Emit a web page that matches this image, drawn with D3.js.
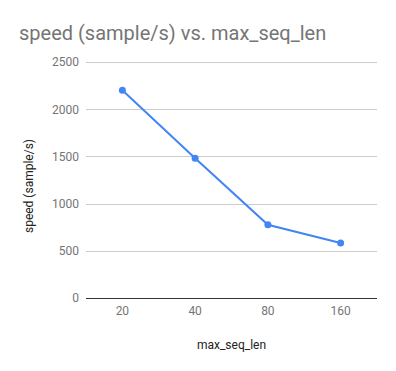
<!DOCTYPE html>
<html><head><meta charset="utf-8">
<script src="https://cdn.jsdelivr.net/npm/d3@7"></script>
<style>body{margin:0;background:#fff}svg{display:block;font-family:Roboto,Arial,sans-serif}</style>
</head><body>
<svg id="c" width="396" height="371"></svg>
<script>
const categories = ["20","40","80","160"];
const speed = [2200, 1480, 775, 582];
const yTicks = [0, 500, 1000, 1500, 2000, 2500];
const title = "speed (sample/s) vs. max_seq_len";
const xTitle = "max_seq_len";
const yTitle = "speed (sample/s)";

const svg = d3.select("#c");
const m = {left: 86, right: 19, top: 62, bottom: 73};
const W = 396, H = 371;
const x = d3.scaleBand().domain(categories).range([m.left, W - m.right]);
const y = d3.scaleLinear().domain([0, 2500]).range([H - m.bottom, m.top]);

svg.append("rect").attr("width", W).attr("height", H).attr("fill", "#fff");

// gridlines
const gy = svg.append("g").attr("transform", `translate(${m.left},0)`)
  .call(d3.axisLeft(y).tickValues(yTicks).tickFormat(d3.format("d")).tickSize(-(W - m.left - m.right)).tickPadding(7));
gy.select(".domain").remove();
gy.selectAll(".tick line").attr("stroke", "#cccccc").attr("shape-rendering", "crispEdges");
gy.selectAll(".tick text").attr("fill", "#757575").attr("font-size", 12).attr("font-family", "Roboto");
gy.selectAll(".tick").filter(d => d === 0).select("line").attr("stroke", "#333").attr("stroke-width", 1.3);

const gx = svg.append("g").attr("transform", `translate(0,${H - m.bottom})`)
  .call(d3.axisBottom(x).tickSize(0).tickPadding(8));
gx.select(".domain").remove();
gx.selectAll(".tick text").attr("fill", "#757575").attr("font-size", 12).attr("font-family", "Roboto");

const line = d3.line().x((d, i) => x(categories[i]) + x.bandwidth() / 2).y(d => y(d));
svg.append("path").datum(speed).attr("d", line).attr("fill", "none")
  .attr("stroke", "#4285F4").attr("stroke-width", 2);
svg.selectAll("circle.pt").data(speed).join("circle")
  .attr("cx", (d, i) => x(categories[i]) + x.bandwidth() / 2)
  .attr("cy", d => y(d)).attr("r", 3.5).attr("fill", "#4285F4");

svg.append("text").attr("x", 19).attr("y", 40).text(title)
  .attr("fill", "#757575").attr("font-size", 20).attr("font-family", "Roboto");
svg.append("text").attr("x", (m.left + W - m.right) / 2).attr("y", 349).attr("text-anchor", "middle")
  .text(xTitle).attr("fill", "#222").attr("font-size", 12).attr("font-family", "Roboto");
svg.append("text").attr("transform", "translate(33,186) rotate(-90)").attr("text-anchor", "middle")
  .text(yTitle).attr("fill", "#222").attr("font-size", 12).attr("font-family", "Roboto");
</script>
</body></html>
